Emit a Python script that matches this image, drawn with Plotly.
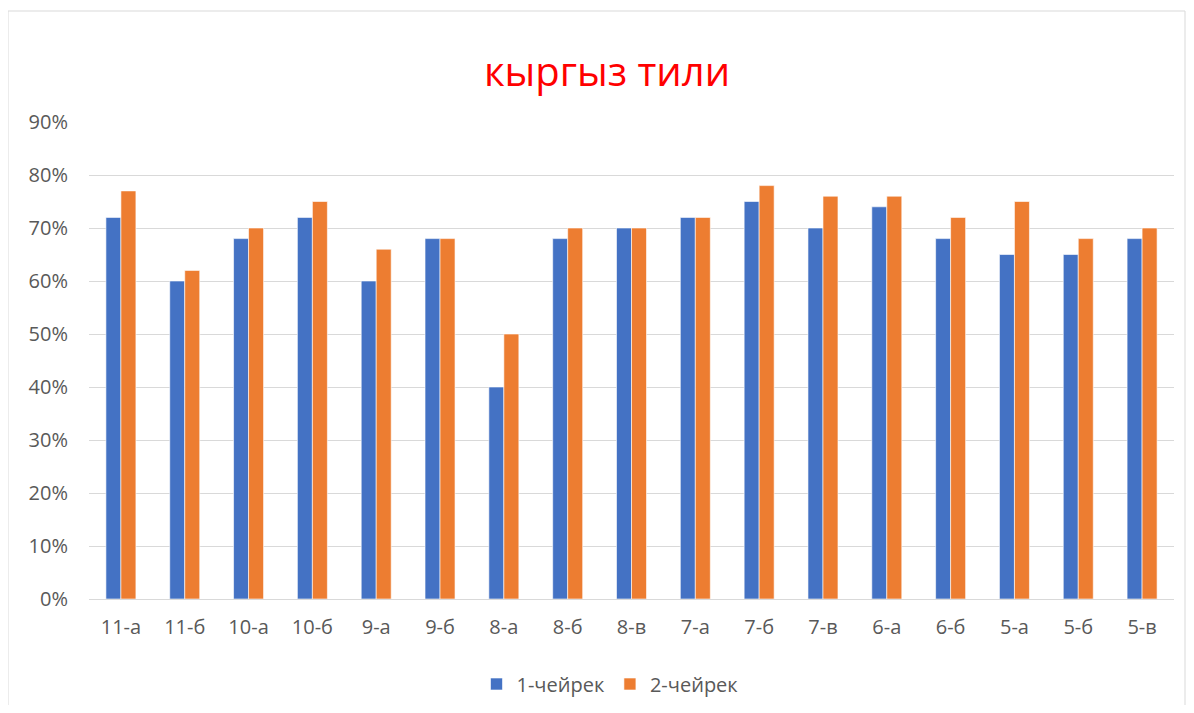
import plotly.graph_objects as go

categories = ["11-а", "11-б", "10-а", "10-б", "9-а", "9-б", "8-а", "8-б", "8-в",
              "7-а", "7-б", "7-в", "6-а", "6-б", "5-а", "5-б", "5-в"]
q1 = [0.72, 0.60, 0.68, 0.72, 0.60, 0.68, 0.40, 0.68, 0.70,
      0.72, 0.75, 0.70, 0.74, 0.68, 0.65, 0.65, 0.68]
q2 = [0.77, 0.62, 0.70, 0.75, 0.66, 0.68, 0.50, 0.70, 0.70,
      0.72, 0.78, 0.76, 0.76, 0.72, 0.75, 0.68, 0.70]
series_names = ["1-чейрек", "2-чейрек"]
yticks = [0, 0.1, 0.2, 0.3, 0.4, 0.5, 0.6, 0.7, 0.8, 0.9]

# page body has an 8px margin; figure sized to fit in the window
W, H = 1178, 697
L, R, T, B = 81, 12, 114, 106
pw = W - L - R
ph = H - T - B

fig = go.Figure()
fig.add_trace(go.Bar(x=categories, y=q1, name=series_names[0],
                     marker=dict(color="#4472C4", line=dict(color="#FFFFFF", width=0.6))))
fig.add_trace(go.Bar(x=categories, y=q2, name=series_names[1],
                     marker=dict(color="#ED7D31", line=dict(color="#FFFFFF", width=0.6))))

font_family = "Open Sans, Noto Sans, DejaVu Sans, sans-serif"

fig.update_layout(
    width=W, height=H,
    margin=dict(l=L, r=R, t=T, b=B, autoexpand=False),
    paper_bgcolor="white", plot_bgcolor="white",
    barmode="group", bargap=0.53, bargroupgap=0,
    title=dict(text="кыргыз тили", x=(607 - 8) / W, xanchor="center",
               y=1 - 64 / H, yanchor="middle", yref="container",
               font=dict(family=font_family, size=40, color="#FF0000")),
    font=dict(family=font_family, color="#595959", size=20),
    legend=dict(orientation="h", x=(610 - 8 - L) / pw, xanchor="center",
                y=(591 - 676) / ph, yanchor="middle",
                font=dict(size=20, color="#595959"),
                itemwidth=30, traceorder="normal"),
    xaxis=dict(showgrid=False, showline=False, ticks="",
               ticklabelstandoff=14,
               tickfont=dict(size=20, color="#595959")),
    yaxis=dict(range=[0, 0.9], tickvals=yticks, tickformat=".0%",
               showgrid=True, gridcolor="#D9D9D9", gridwidth=1,
               zeroline=True, zerolinecolor="#D9D9D9", zerolinewidth=1,
               showline=False, ticks="", ticklabelstandoff=20,
               tickfont=dict(size=20, color="#595959")),
)

# outer chart border
fig.add_shape(type="rect", xref="paper", yref="paper",
              x0=(0 - L) / pw, x1=(W - 1 - L) / pw,
              y0=(591 - 740) / ph, y1=(591 - 3) / ph,
              line=dict(color="#D9D9D9", width=1), fillcolor="rgba(0,0,0,0)",
              layer="below")

fig.write_html("out.html")
